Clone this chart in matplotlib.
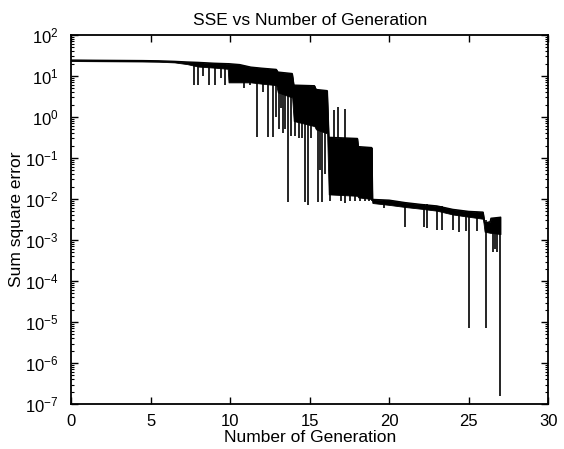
import numpy as np
import matplotlib.pyplot as plt
from matplotlib.ticker import LogLocator, FixedLocator

plt.rcParams.update({
    'font.family': ['Liberation Sans', 'DejaVu Sans'],
    'font.size': 11,
    'mathtext.fontset': 'custom',
    'mathtext.rm': 'Liberation Sans',
})

# noise band of the SSE trace: upper / lower envelope at knots
band_x = [0.0, 1.5, 3.0, 4.5, 5.5, 6.5, 7.3, 8.0, 9.0, 9.85, 9.9, 10.6, 11.3,
          12.0, 12.9, 13.0, 13.9, 14.0, 15.3, 15.4, 16.1, 16.2, 18.0, 18.05,
          18.9, 18.95, 20.0, 21.0, 22.0, 23.0, 24.0, 25.0, 25.9, 26.0, 26.35,
          26.4, 27.0]
band_hi = [24.5, 24.2, 24.0, 23.8, 23.5, 22.8, 22.0, 21.5, 20.5, 20.0, 20.0,
           19.0, 16.5, 15.5, 14.5, 12.5, 11.5, 6.0, 5.8, 4.7, 4.4, 0.32, 0.30,
           0.19, 0.18, 0.0098, 0.0094, 0.0082, 0.0074, 0.0068, 0.0056, 0.0050,
           0.0048, 0.0026, 0.0028, 0.0034, 0.0036]
band_lo = [23.2, 23.0, 22.8, 22.6, 22.3, 21.5, 19.5, 17.0, 16.0, 15.0, 7.0,
           7.0, 7.0, 6.5, 6.0, 4.0, 3.0, 0.8, 0.6, 0.5, 0.4, 0.013, 0.012,
           0.011, 0.010, 0.0080, 0.0072, 0.0064, 0.0058, 0.0052, 0.0042,
           0.0037, 0.0033, 0.0016, 0.0015, 0.0015, 0.0014]

# individual vertical excursions (drops and spikes) of the trace
stroke_x = [7.70, 7.95, 8.30, 8.65, 9.05, 9.40, 9.65, 10.90, 11.25, 11.70,
            12.05, 12.40, 12.70, 12.90, 13.10, 13.20, 13.35, 13.45, 13.65,
            13.80, 14.10, 14.30, 14.50, 14.70, 14.90, 15.10, 15.50, 15.65,
            15.75, 15.95, 16.30, 16.55, 16.80, 16.95, 17.20, 17.25, 17.55,
            17.85, 18.15, 18.45, 18.75, 18.95, 19.70, 21.00, 22.20, 22.40,
            23.00, 23.30, 24.00, 24.40, 24.80, 25.03, 25.50, 26.10, 26.50,
            26.65, 26.80, 26.94]
stroke_hi = [21.5, 21.5, 21.0, 20.5, 20.5, 20.0, 20.0, 18.0, 16.0, 15.5,
             15.0, 14.5, 14.5, 14.0, 12.5, 12.0, 12.0, 11.5, 11.5, 11.5, 5.8,
             5.8, 5.8, 5.8, 5.8, 5.8, 4.6, 4.6, 4.4, 4.4, 0.31, 1.5, 1.8, 0.30,
             1.6, 0.30, 0.30, 0.30, 0.19, 0.19, 0.18, 0.18, 0.0094, 0.0082,
             0.0074, 0.0074, 0.0068, 0.0068, 0.0056, 0.0054, 0.0052, 0.0050,
             0.0048, 0.0030, 0.0034, 0.0034, 0.0036, 0.0036]
stroke_lo = [6.0, 6.0, 10.0, 6.0, 6.0, 9.0, 6.0, 5.0, 6.0, 0.32, 4.0, 0.32,
             0.32, 1.0, 0.5, 1.7, 0.4, 0.5, 0.0085, 0.35, 0.35, 0.3, 0.3,
             0.0085, 0.007, 0.3, 0.0085, 0.05, 0.0085, 0.04, 0.009, 0.3, 0.3,
             0.009, 0.3, 0.008, 0.009, 0.009, 0.009, 0.009, 0.009, 0.0090,
             0.0062, 0.0021, 0.0021, 0.0020, 0.0018, 0.0018, 0.0018, 0.0016,
             0.0017, 7e-6, 0.0017, 7e-6, 5e-4, 6e-4, 5e-4, 1.6e-7]

fig = plt.figure(figsize=(5.64, 4.49), dpi=100)
ax = fig.add_axes([0.126, 0.100, 0.846, 0.822])

ax.fill_between(band_x, band_lo, band_hi, color='k', lw=0.6)
ax.plot(band_x, band_hi, 'k-', lw=1.0)
ax.vlines(stroke_x, stroke_lo, stroke_hi, colors='k', lw=1.2)

ax.set_yscale('log')
ax.set_xlim(0, 30)
ax.set_ylim(1e-7, 1e2)
ax.xaxis.set_major_locator(FixedLocator([0, 5, 10, 15, 20, 25, 30]))
ax.yaxis.set_major_locator(LogLocator(base=10, numticks=20))
ax.yaxis.set_minor_locator(LogLocator(base=10, subs=np.arange(2, 10), numticks=20))
ax.tick_params(which='both', direction='in', top=True, right=True, labelsize=12)
ax.tick_params(which='major', length=5, width=1.0)
ax.tick_params(axis='x', which='major', pad=7)
ax.tick_params(axis='y', which='major', pad=9)
ax.tick_params(which='minor', length=2.5, width=0.8)
for s in ax.spines.values():
    s.set_linewidth(1.3)

ax.set_title('SSE vs Number of Generation', fontsize=12.5, pad=7)
ax.set_xlabel('Number of Generation', fontsize=12.5, labelpad=1)
ax.set_ylabel('Sum square error', fontsize=12.5)
ax.yaxis.set_label_coords(-0.098, 0.5)

fig.savefig('out.png', dpi=100)
